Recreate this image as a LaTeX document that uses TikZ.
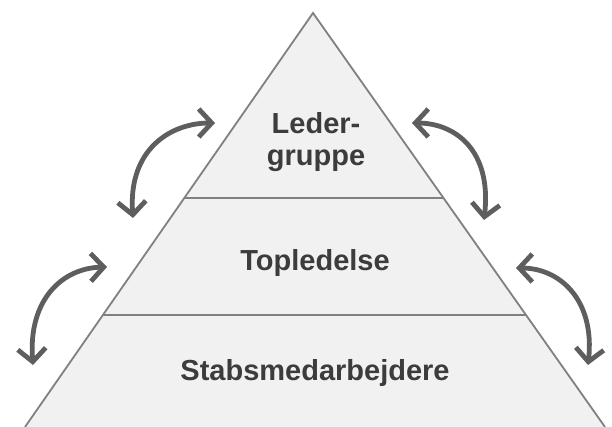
\documentclass[tikz,border=0pt]{standalone}
\usepackage{fontspec}
\setmainfont{Liberation Sans}
\usetikzlibrary{arrows.meta}
\definecolor{edge}{HTML}{808080}
\definecolor{pyr}{HTML}{F1F1F1}
\definecolor{arr}{HTML}{5E5E5E}
\definecolor{txt}{HTML}{3C3C3C}
\tikzset{
  level/.style={font=\fontsize{29}{32}\selectfont\bfseries, text=txt, align=center, inner sep=0pt},
  swap/.style={draw=arr, line width=4.8pt, line cap=round,
    {Straight Barb[length=13pt,width=28pt,line width=4.8pt]}-{Straight Barb[length=13pt,width=28pt,line width=4.8pt]}}
}
\begin{document}
\begin{tikzpicture}[x=1pt,y=-1pt]
\useasboundingbox (0,0) rectangle (612,427);
\fill[white] (0,0) rectangle (612,427);
\coordinate (apex) at (313,13);
\coordinate (bl) at (25,427);
\coordinate (br) at (605,427);
\fill[pyr] (apex) -- (bl) -- (br) -- cycle;
\draw[edge, line width=1.8pt] (bl) -- (apex) -- (br);
\path (apex) -- (bl) coordinate[pos=0.4469] (d1l);
\path (apex) -- (br) coordinate[pos=0.4469] (d1r);
\path (apex) -- (bl) coordinate[pos=0.7295] (d2l);
\path (apex) -- (br) coordinate[pos=0.7295] (d2r);
\draw[edge, line width=1.8pt] (d1l) -- (d1r);
\draw[edge, line width=1.8pt] (d2l) -- (d2r);
\node[level] (lg) at (316,142) {Leder-\\gruppe};
\node[level, anchor=base] (tl) at (315,270) {Topledelse};
\node[level, anchor=base] (sm) at (315,380) {Stabsmedarbejdere};
\coordinate (a1s) at (133,218); \coordinate (a1e) at (215,123);
\coordinate (a2s) at (412,123); \coordinate (a2e) at (484,220);
\coordinate (a3s) at (33,365);  \coordinate (a3e) at (107,267);
\coordinate (a4s) at (516,268); \coordinate (a4e) at (588,365);
\draw[swap] (a1s) .. controls (128,150) and (170,123) .. (a1e);
\draw[swap] (a2s) .. controls (455,123) and (492,150) .. (a2e);
\draw[swap] (a3s) .. controls (28,300) and (62,268) .. (a3e);
\draw[swap] (a4s) .. controls (560,268) and (595,300) .. (a4e);
\end{tikzpicture}
\end{document}
